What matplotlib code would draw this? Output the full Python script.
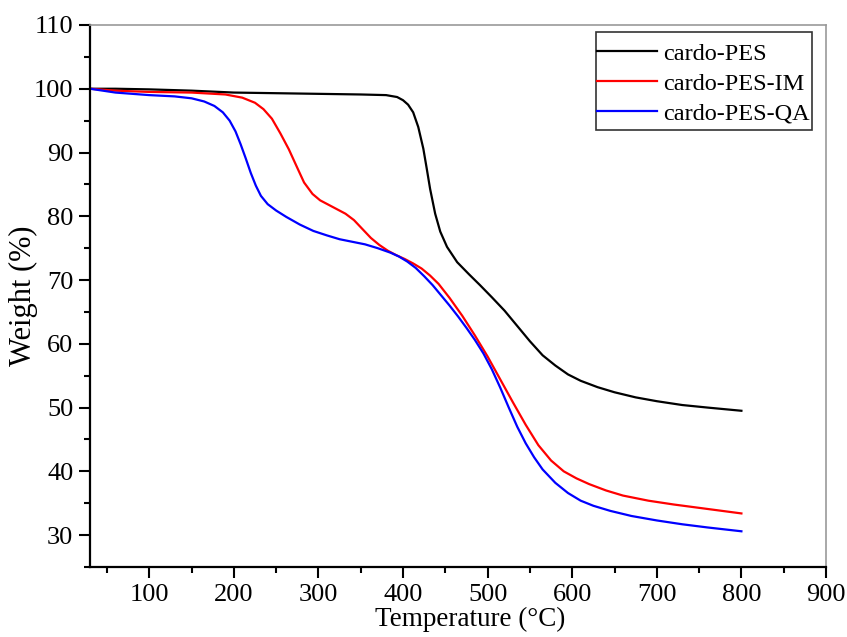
import matplotlib.pyplot as plt
from matplotlib.patches import Rectangle
from matplotlib.ticker import MultipleLocator

# temperatures (°C) and weight (%)
temp_pes = [30, 60, 100, 150, 200, 250, 300, 350, 380, 393, 400, 406, 412, 418, 424, 428, 432, 438, 444,
            452, 464, 478, 491, 505, 520, 535, 550, 565, 580, 595, 610, 630, 650, 675, 700, 730, 760, 800]
weight_pes = [100, 100, 99.9, 99.7, 99.4, 99.3, 99.2, 99.1, 99.0, 98.7, 98.2, 97.5, 96.3, 94.0, 90.6, 87.5,
              84.3, 80.4, 77.6, 75.2, 72.8, 70.9, 69.2, 67.3, 65.2, 62.8, 60.4, 58.2, 56.6, 55.2, 54.2,
              53.2, 52.4, 51.6, 51.0, 50.4, 50.0, 49.5]

temp_im = [30, 60, 100, 150, 190, 210, 225, 235, 245, 255, 265, 275, 283, 293, 302, 312, 322, 332, 342, 352,
           362, 372, 382, 392, 402, 412, 422, 432, 442, 455, 470, 485, 500, 515, 530, 545, 560, 575, 590,
           605, 620, 640, 660, 690, 720, 760, 800]
weight_im = [100, 99.7, 99.5, 99.4, 99.1, 98.6, 97.8, 96.8, 95.3, 93.0, 90.5, 87.6, 85.3, 83.5, 82.5, 81.8,
             81.1, 80.4, 79.4, 78.0, 76.6, 75.5, 74.6, 73.9, 73.3, 72.6, 71.8, 70.7, 69.4, 67.2, 64.4, 61.3,
             58.0, 54.4, 50.8, 47.3, 44.1, 41.7, 40.0, 38.9, 38.0, 37.0, 36.2, 35.4, 34.8, 34.1, 33.4]

temp_qa = [30, 60, 100, 130, 150, 165, 177, 187, 195, 202, 208, 214, 220, 226, 232, 240, 250, 262, 278,
           294, 310, 325, 340, 355, 370, 385, 395, 405, 415, 425, 435, 445, 455, 465, 475, 485, 495, 505,
           515, 525, 535, 545, 555, 565, 580, 595, 610, 625, 645, 670, 700, 730, 760, 800]
weight_qa = [100, 99.4, 99.0, 98.8, 98.5, 98.0, 97.3, 96.3, 95.0, 93.3, 91.3, 89.1, 86.8, 84.8, 83.2, 81.9,
             80.9, 79.9, 78.7, 77.7, 77.0, 76.4, 76.0, 75.6, 75.0, 74.3, 73.7, 72.9, 71.9, 70.6, 69.2,
             67.6, 66.0, 64.3, 62.5, 60.6, 58.5, 56.0, 53.1, 50.0, 47.0, 44.4, 42.2, 40.3, 38.2, 36.6,
             35.4, 34.6, 33.8, 33.0, 32.3, 31.7, 31.2, 30.6]

plt.rcParams['font.family'] = ['Liberation Serif', 'DejaVu Serif']

fig = plt.figure(figsize=(8.47, 6.37), dpi=100)
ax = fig.add_axes([0.1063, 0.1099, 0.9752 - 0.1063, 0.9608 - 0.1099])

ax.plot(temp_pes, weight_pes, color='black', lw=1.6, label='cardo-PES')
ax.plot(temp_im, weight_im, color='#ff0000', lw=1.6, label='cardo-PES-IM')
ax.plot(temp_qa, weight_qa, color='#0000ff', lw=1.6, label='cardo-PES-QA')

ax.set_xlim(30, 900)
ax.set_ylim(25, 110)
ax.xaxis.set_major_locator(MultipleLocator(100))
ax.xaxis.set_minor_locator(MultipleLocator(50))
ax.yaxis.set_major_locator(MultipleLocator(10))
ax.yaxis.set_minor_locator(MultipleLocator(5))
ax.set_xticks(range(100, 901, 100))

ax.tick_params(which='major', direction='out', length=8, width=1.5, labelsize=19, pad=4)
ax.tick_params(which='minor', direction='out', length=4, width=1.5)
ax.tick_params(top=False, right=False, which='both')

for side in ['left', 'bottom']:
    ax.spines[side].set_linewidth(1.6)
    ax.spines[side].set_color('black')
for side in ['top', 'right']:
    ax.spines[side].set_linewidth(1.2)
    ax.spines[side].set_color('#999999')

ax.set_xlabel('Temperature (°C)', fontsize=19.5)
ax.xaxis.set_label_coords(0.516, -0.074)
ax.set_ylabel('Weight (%)', fontsize=22)
ax.yaxis.set_label_coords(-0.071, 0.5)

# legend without its own frame, box drawn separately (tight sides, taller than default)
ax.legend(loc='upper right', bbox_to_anchor=(0.985, 0.976), fontsize=17.5, frameon=False,
          handlelength=2.5, handletextpad=0.25, borderpad=0.2, labelspacing=0.32, borderaxespad=0)
ax.add_patch(Rectangle((0.6875, 0.806), 0.2935, 0.181, transform=ax.transAxes, fill=False,
                       edgecolor='#333333', lw=1.2, zorder=5, clip_on=False))

fig.savefig('out.png', dpi=100)
